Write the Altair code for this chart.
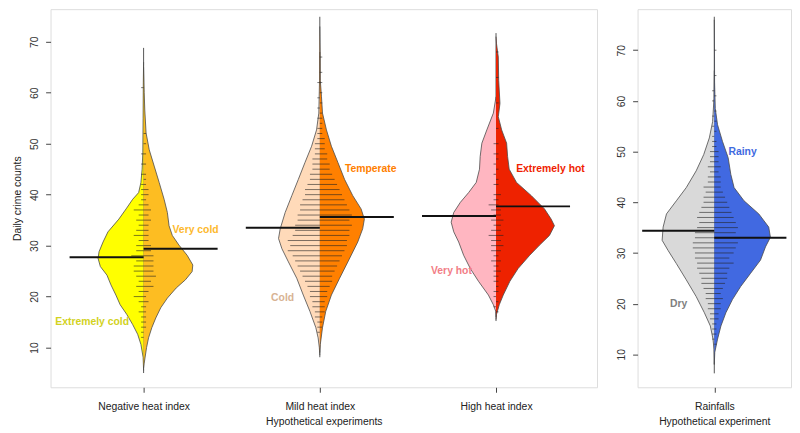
import json
import altair as alt
import pandas as pd

# ---------------- data ----------------
LEFT_GROUPS = ["Negative heat index", "Mild heat index", "High heat index"]
RIGHT_GROUPS = ["Rainfalls"]
HALF_NAMES = ["Extremely cold", "Very cold", "Cold", "Temperate",
              "Very hot", "Extremely hot", "Dry", "Rainy"]

# density outlines: crime count value (V) and half-width density (D, relative)
EXT_COLD_V = [5.5, 8.1, 10.6, 12.6, 14.5, 16.5, 18.4, 20.3, 22.3, 24.2, 25.9, 27.5, 28.8,
              30.7, 32.7, 35.2, 37.2, 39.1, 40.4, 42.4, 45, 48.2, 55, 62, 66]
EXT_COLD_D = [0, 0.5, 2.7, 6, 11, 17, 23.7, 28, 33, 37, 43.7, 46, 45,
              41, 36, 25, 17.7, 11, 5, 2.7, 1.5, 0.8, 0.5, 0.3, 0]
VERY_COLD_V = [6.0, 6.8, 10, 11.9, 13.9, 15.8, 17.8, 19.7, 21.7, 23.3, 24.9, 26.2, 28.1,
               30.1, 32, 33.9, 36.5, 39.1, 42.4, 45.6, 48.8, 52.1, 56.6, 60, 65]
VERY_COLD_D = [0, 0.5, 3, 5, 8.3, 12.3, 17.3, 24, 33, 42.3, 49, 49.7, 44,
               35.7, 29, 25.7, 24, 20.7, 15.7, 10.7, 5.7, 2.5, 1.2, 0.6, 0]
COLD_V = [8.5, 10, 11.9, 13.9, 17.1, 20.3, 23.6, 26.8, 29.4, 31.4, 33.3, 36.5, 39.8,
          43, 46.3, 49.5, 52.7, 56, 62.4, 68]
COLD_D = [0, 0.5, 1.7, 4, 10, 16.7, 23.3, 31.7, 38.3, 41.7, 40, 35, 28.3,
          21.7, 15, 8.3, 3.3, 1, 0.3, 0]
TEMPERATE_V = [9, 10.6, 13.9, 17.1, 20.3, 23.6, 26.8, 30.7, 33.3, 35.2, 37.2, 39.8, 43,
               46.3, 49.5, 52.7, 56, 59.2, 62.4, 68, 73]
TEMPERATE_D = [0, 0.5, 2.7, 6, 11.7, 20, 28.3, 38.3, 43.3, 45, 41.7, 33.3, 25,
               18.3, 11.7, 6.7, 2.7, 1.7, 0.5, 0.3, 0]
VERY_HOT_V = [16, 17.1, 18.4, 20.3, 23, 25.5, 28.1, 30.7, 32.7, 34.6, 36.5, 38.5, 40.4,
              42.4, 45, 47.5, 50.1, 52.7, 56, 59.2]
VERY_HOT_D = [0, 0.3, 2.7, 7.7, 17.7, 26, 32.7, 37.7, 42.7, 45.3, 42.7, 36, 27.7,
              20, 16.7, 16, 14.3, 9.3, 2.7, 0]
EXT_HOT_V = [15.5, 16.5, 18.4, 20.3, 23, 25.5, 28.1, 30.1, 32, 33.9, 35.2, 37.2, 39.8,
             42.4, 45, 47.5, 50.1, 52.7, 55.3, 57.9, 62.4, 67, 69.6, 71]
EXT_HOT_D = [0, 0.5, 3.3, 7.3, 14, 22.3, 34, 44, 54, 59, 55.7, 49, 35.7,
             20.7, 13.3, 11.7, 10.7, 5.7, 2.3, 4, 2.7, 2.3, 0.5, 0]
DRY_V = [8, 11, 13, 15.6, 18.2, 21.4, 24.7, 27.9, 30.5, 32.5, 35.1, 37.7, 40.3,
         42.9, 46.2, 49.4, 52.7, 55.9, 60.5, 66]
DRY_D = [0, 0.3, 1.3, 4, 10, 18.3, 28.3, 38.3, 46.7, 52.7, 51.7, 48.3, 38.3,
         28.3, 18.3, 10.7, 5, 1.7, 0.3, 0]
RAINY_V = [8, 10.4, 13, 15.6, 18.2, 20.8, 23.4, 26, 28.6, 31.2, 33.1, 35.1, 37.7,
           40.3, 42.9, 45.5, 48.8, 52, 55.3, 58.5, 63.7, 70, 76]
RAINY_D = [0, 0.5, 3.3, 6.7, 11.7, 18.3, 26.7, 36.7, 46.7, 51.7, 56.7, 55, 45,
           30, 20, 16.7, 14, 8.3, 3.3, 1, 0.3, 0.2, 0]

# bean lines: observed daily counts and how many days had that count
EXT_COLD_OBS = [12, 13, 14, 15, 16, 17, 18, 19, 20, 21, 22, 23, 24, 25, 26, 27, 28, 29,
                30, 31, 32, 33, 34, 35, 36, 37, 38, 39, 40, 41, 42, 44, 46, 48, 61]
EXT_COLD_N = [1, 1, 1, 1, 1, 2, 1, 2, 4, 2, 3, 2, 3, 4, 4, 3, 5, 3,
              3, 2, 4, 3, 2, 3, 2, 4, 2, 1, 1, 1, 1, 1, 1, 1, 1]
VERY_COLD_OBS = [14, 15, 16, 17, 18, 19, 20, 21, 22, 23, 24, 25, 26, 27, 28, 29, 30, 31,
                 32, 33, 34, 35, 36, 37, 38, 39, 40, 41, 42, 43, 44, 46, 48, 50, 52]
VERY_COLD_N = [1, 1, 1, 1, 1, 2, 1, 2, 4, 3, 5, 4, 4, 4, 4, 3, 3, 2,
               2, 2, 2, 3, 2, 3, 2, 1, 2, 2, 1, 1, 1, 1, 1, 1, 1]
COLD_OBS = [13, 14, 15, 16, 17, 18, 19, 20, 21, 22, 23, 24, 25, 26, 27, 28, 29, 30, 31,
            32, 33, 34, 35, 36, 37, 38, 39, 40, 41, 42, 43, 44, 45, 46, 47, 48, 49, 50,
            51, 52, 53, 55, 57, 59, 62]
COLD_N = [1, 1, 1, 2, 2, 3, 3, 4, 4, 5, 6, 7, 8, 9, 10, 11, 13, 12, 13,
          11, 10, 10, 9, 9, 8, 8, 7, 6, 6, 5, 4, 4, 3, 3, 3, 2, 2, 2,
          1, 1, 1, 1, 1, 1, 1]
TEMPERATE_OBS = [14, 15, 16, 17, 18, 19, 20, 21, 22, 23, 24, 25, 26, 27, 28, 29, 30, 31,
                 32, 33, 34, 35, 36, 37, 38, 39, 40, 41, 42, 43, 44, 45, 46, 47, 48, 49,
                 50, 51, 52, 53, 54, 55, 56, 58, 60, 62, 64, 67]
TEMPERATE_N = [1, 1, 1, 2, 2, 2, 3, 3, 4, 5, 5, 6, 7, 8, 9, 10, 11, 11,
               12, 12, 13, 12, 13, 12, 11, 10, 9, 8, 7, 6, 5, 4, 4, 3, 3, 2,
               2, 2, 1, 1, 1, 1, 1, 1, 1, 1, 1, 1]
VERY_HOT_OBS = [18, 20, 21, 23, 24, 25, 26, 27, 28, 29, 30, 31, 32, 33, 34, 35, 36, 37,
                38, 39, 40, 42, 44, 46, 48, 50]
VERY_HOT_N = [1, 1, 1, 1, 1, 1, 1, 2, 1, 2, 2, 2, 3, 2, 1, 2, 1, 2,
              3, 1, 1, 1, 1, 1, 1, 1]
EXT_HOT_OBS = [17, 19, 21, 22, 23, 24, 25, 26, 27, 28, 29, 30, 31, 32, 33, 34, 35, 36,
               37, 38, 39, 40, 42, 43, 45, 47, 48, 50, 53, 58, 63, 68]
EXT_HOT_N = [1, 1, 1, 1, 1, 1, 2, 1, 2, 1, 2, 3, 2, 3, 2, 2, 3, 2,
             2, 1, 1, 2, 1, 1, 1, 1, 1, 1, 1, 1, 1, 1]
DRY_OBS = [13, 14, 15, 16, 17, 18, 19, 20, 21, 22, 23, 24, 25, 26, 27, 28, 29, 30, 31,
           32, 33, 34, 35, 36, 37, 38, 39, 40, 41, 42, 43, 44, 45, 46, 47, 48, 49, 50,
           51, 52, 53, 55, 57, 60, 62]
DRY_N = [1, 1, 1, 1, 2, 2, 3, 3, 4, 4, 5, 6, 6, 7, 8, 8, 9, 9, 10,
         10, 9, 9, 8, 7, 8, 7, 6, 5, 5, 4, 5, 3, 3, 2, 3, 2, 2, 2,
         1, 1, 1, 1, 1, 1, 1]
RAINY_OBS = [12, 14, 15, 16, 17, 18, 19, 20, 21, 22, 23, 24, 25, 26, 27, 28, 29, 30, 31,
             32, 33, 34, 35, 36, 37, 38, 39, 40, 41, 42, 43, 44, 45, 46, 47, 48, 49, 50,
             51, 52, 54, 56, 58, 61, 65, 70]
RAINY_N = [1, 1, 1, 1, 2, 2, 3, 3, 4, 3, 4, 5, 6, 6, 7, 9, 7, 9, 10,
           11, 12, 10, 11, 10, 9, 8, 7, 6, 5, 4, 3, 3, 3, 2, 3, 2, 2, 2,
           1, 1, 1, 1, 1, 1, 1, 1]

# group means (one per half) and full data range of each bean
HALF_MEANS = [27.7, 29.4, 33.5, 35.6, 35.8, 37.7, 34.4, 33.0]
BEAN_MIN = [5.0, 8.1, 15.2, 6.25]
BEAN_MAX = [68.8, 74.9, 71.7, 76.6]

# ---------------- style ----------------
FONT = "Liberation Sans"
FILL = {"Extremely cold": "#FFFF00", "Very cold": "#FDBD22", "Cold": "#FFDAB9",
        "Temperate": "#FF8000", "Very hot": "#FFB6C1", "Extremely hot": "#EE2200",
        "Dry": "#D9D9D9", "Rainy": "#4169E1"}
LABEL_COL = {"Extremely cold": "#D2D21E", "Very cold": "#FDB92E", "Cold": "#D8B393",
             "Temperate": "#FF8000", "Very hot": "#F27D86", "Extremely hot": "#F01E00",
             "Dry": "#7F7F7F", "Rainy": "#3F6AE0"}
LABEL_POS = {"Extremely cold": (0.708, 15.05), "Very cold": (1.295, 33.1),
             "Cold": (1.789, 19.7), "Temperate": (2.289, 44.95),
             "Very hot": (2.747, 24.95), "Extremely hot": (3.309, 44.95),
             "Dry": (0.768, 19.9), "Rainy": (1.184, 50.0)}
LL = 0.014            # bean line length per observation (x units)
PLOT_H = 382

HALVES = {
    "Extremely cold": (EXT_COLD_V, EXT_COLD_D, EXT_COLD_OBS, EXT_COLD_N),
    "Very cold": (VERY_COLD_V, VERY_COLD_D, VERY_COLD_OBS, VERY_COLD_N),
    "Cold": (COLD_V, COLD_D, COLD_OBS, COLD_N),
    "Temperate": (TEMPERATE_V, TEMPERATE_D, TEMPERATE_OBS, TEMPERATE_N),
    "Very hot": (VERY_HOT_V, VERY_HOT_D, VERY_HOT_OBS, VERY_HOT_N),
    "Extremely hot": (EXT_HOT_V, EXT_HOT_D, EXT_HOT_OBS, EXT_HOT_N),
    "Dry": (DRY_V, DRY_D, DRY_OBS, DRY_N),
    "Rainy": (RAINY_V, RAINY_D, RAINY_OBS, RAINY_N),
}


def panel(groups, half_names, bean_idx, xdom, width, ydom, dscale, mean_half,
          xtitle, ytitle):
    xs = alt.Scale(domain=xdom, nice=False, zero=False)
    ys = alt.Scale(domain=ydom, nice=False, zero=False)
    expr = json.dumps([""] + groups) + "[datum.value]"
    xaxis = alt.Axis(values=list(range(1, len(groups) + 1)), labelExpr=expr,
                     grid=False, domain=False, tickSize=5, tickColor="#444",
                     labelFont=FONT, labelFontSize=10.5, labelColor="#222",
                     labelPadding=9, titleFont=FONT, titleFontSize=10.5,
                     titleFontWeight="normal", titleColor="#222", titlePadding=5)
    yaxis = alt.Axis(values=[10, 20, 30, 40, 50, 60, 70], labelAngle=270,
                     labelAlign="center", labelBaseline="bottom", grid=False,
                     domain=False, tickSize=5, tickColor="#444", labelFont=FONT,
                     labelFontSize=10.5, labelColor="#333", labelPadding=6,
                     titleFont=FONT, titleFontSize=10.5, titleFontWeight="normal",
                     titleColor="#222", titlePadding=7)

    def X(f):
        return alt.X(f, type="quantitative", scale=xs, axis=xaxis, title=xtitle)

    def Y(f):
        return alt.Y(f, type="quantitative", scale=ys, axis=yaxis, title=ytitle)

    layers = []
    cdf = pd.DataFrame({"x": [i + 1 for i in range(len(groups))],
                        "lo": [BEAN_MIN[b] for b in bean_idx],
                        "hi": [BEAN_MAX[b] for b in bean_idx]})
    layers.append(alt.Chart(cdf).mark_rule(color="#555", strokeWidth=1).encode(
        x=X("x"), y=Y("lo"), y2=alt.Y2("hi")))

    line_rows, mean_rows, text_rows = [], [], []
    for k, name in enumerate(half_names):
        center = k // 2 + 1
        sgn = -1 if k % 2 == 0 else 1
        vs, ds, obs, ns = HALVES[name]
        adf = pd.DataFrame({"v": vs, "edge": [center + sgn * d * dscale for d in ds],
                            "c": [center] * len(vs)})
        layers.append(alt.Chart(adf).mark_area(
            orient="horizontal", color=FILL[name], opacity=1).encode(
            y=Y("v"), x=X("edge"), x2=alt.X2("c")))
        layers.append(alt.Chart(adf).mark_line(
            color="#4a4a4a", strokeWidth=0.8).encode(
            y=Y("v"), x=X("edge"), order=alt.Order("v:Q")))
        for o, n in zip(obs, ns):
            line_rows.append({"v": o, "x": center, "x2": center + sgn * n * LL})
        m = HALF_MEANS[HALF_NAMES.index(name)]
        mean_rows.append({"v": m, "x": center, "x2": center + sgn * mean_half})
        px, pv = LABEL_POS[name]
        text_rows.append({"x": px, "v": pv, "t": name, "col": LABEL_COL[name]})

    layers.append(alt.Chart(pd.DataFrame(line_rows)).mark_rule(
        color="#222", opacity=0.6, strokeWidth=1).encode(
        x=X("x"), x2=alt.X2("x2"), y=Y("v")))
    layers.append(alt.Chart(pd.DataFrame(mean_rows)).mark_rule(
        color="#111", strokeWidth=2).encode(x=X("x"), x2=alt.X2("x2"), y=Y("v")))
    layers.append(alt.Chart(pd.DataFrame(text_rows)).mark_text(
        font=FONT, fontSize=10.5, fontWeight="bold").encode(
        x=X("x"), y=Y("v"), text="t:N", color=alt.Color("col:N", scale=None)))
    return alt.layer(*layers).properties(width=width, height=PLOT_H)


left = panel(LEFT_GROUPS, HALF_NAMES[:6], [0, 1, 2], [0.472, 3.573], 552,
             [2.2, 76.4], 1 / 178, 0.42, "Hypothetical experiments",
             "Daily crime counts")
right = panel(RIGHT_GROUPS, HALF_NAMES[6:], [3], [0.5, 1.5], 155,
              [3.5, 78.1], 1 / 155, 0.47, "Hypothetical experiment", None)

chart = alt.hconcat(left, right, spacing=41, bounds="flush").properties(
    padding={"left": 4, "top": -2, "right": 0, "bottom": 2}
).configure_view(stroke="#555", strokeWidth=1).configure(background="white")

chart.save("out.html", embed_options={"renderer": "svg", "actions": False})
